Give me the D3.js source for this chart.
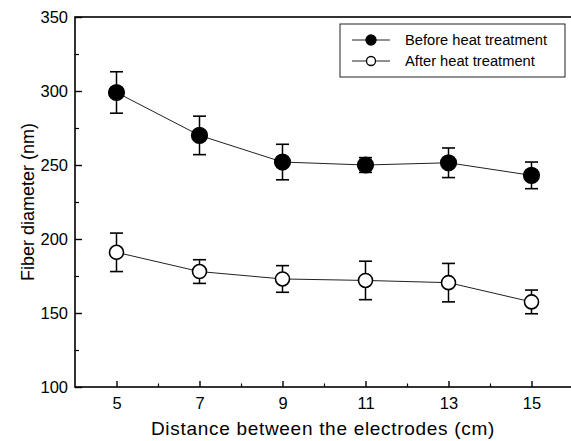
<!DOCTYPE html>
<html lang="en">
  <head>
    <meta charset="UTF-8" />
    <title>Fiber diameter vs electrode distance</title>
    <script src="https://d3js.org/d3.v7.min.js"></script>
    <style>
      body {
        margin: 0;
        background: #fff;
        font-family: "Liberation Sans", Arial, sans-serif;
      }
      .axis text {
        font-family: "Liberation Sans", Arial, sans-serif;
        font-size: 16.5px;
        fill: #000;
      }
      .axis-label {
        font-family: "Liberation Sans", Arial, sans-serif;
        fill: #000;
      }
      .legend text {
        font-family: "Liberation Sans", Arial, sans-serif;
        font-size: 14.7px;
        fill: #000;
      }
    </style>
  </head>
  <body>
    <div class="chart"></div>

    <script>
      // distance between the electrodes (cm)
      const distances = [5, 7, 9, 11, 13, 15];
      // fiber diameter (nm), mean and error
      const beforeMean = [299, 270, 252, 250, 251.5, 243];
      const beforeErr = [14, 13, 12, 5, 10, 9];
      const afterMean = [191, 178, 173, 172, 170.5, 157.5];
      const afterErr = [13, 8, 9, 13, 13, 8];
      const seriesNames = ["Before heat treatment", "After heat treatment"];
      const xTicks = [5, 7, 9, 11, 13, 15];
      const yTicks = [100, 150, 200, 250, 300, 350];

      const margin = { top: 17, right: 0, bottom: 54, left: 75 },
        totalW = 571,
        totalH = 441,
        width = 498,
        height = totalH - margin.top - margin.bottom;

      const svg = d3
        .select(".chart")
        .append("svg")
        .attr("width", totalW)
        .attr("height", totalH)
        .append("g")
        .attr("transform", `translate(${margin.left},${margin.top})`);

      const x = d3.scaleLinear().domain([4, 16]).range([0, width]);
      const y = d3.scaleLinear().domain([100, 350]).range([height, 0]);

      const series = [
        {
          name: seriesNames[0],
          filled: true,
          values: distances.map((d, i) => ({ x: d, y: beforeMean[i], e: beforeErr[i] })),
        },
        {
          name: seriesNames[1],
          filled: false,
          values: distances.map((d, i) => ({ x: d, y: afterMean[i], e: afterErr[i] })),
        },
      ];

      // frame
      svg
        .append("rect")
        .attr("x", 0)
        .attr("y", 0)
        .attr("width", width)
        .attr("height", height)
        .attr("fill", "none")
        .attr("stroke", "#000")
        .attr("stroke-width", 1.6);

      // bottom axis, ticks pointing inward
      const xAxis = svg
        .append("g")
        .attr("class", "axis")
        .attr("transform", `translate(0,${height})`)
        .call(d3.axisBottom(x).tickValues(xTicks).tickSize(-6).tickPadding(10));
      xAxis.select(".domain").remove();
      xAxis.selectAll("line").attr("stroke", "#000").attr("stroke-width", 1.4);

      svg
        .append("g")
        .attr("transform", `translate(0,${height})`)
        .call(d3.axisBottom(x).tickValues(d3.range(6, 16, 2)).tickSize(-3.5).tickFormat(""))
        .call((g) => g.select(".domain").remove())
        .selectAll("line")
        .attr("stroke", "#000")
        .attr("stroke-width", 1.2);

      // left axis
      const yAxis = svg
        .append("g")
        .attr("class", "axis")
        .call(d3.axisLeft(y).tickValues(yTicks).tickSize(-7).tickPadding(7));
      yAxis.select(".domain").remove();
      yAxis.selectAll("line").attr("stroke", "#000").attr("stroke-width", 1.4);

      svg
        .append("g")
        .call(d3.axisLeft(y).tickValues(d3.range(125, 350, 50)).tickSize(-4).tickFormat(""))
        .call((g) => g.select(".domain").remove())
        .selectAll("line")
        .attr("stroke", "#000")
        .attr("stroke-width", 1.2);

      // axis labels
      svg
        .append("text")
        .attr("class", "axis-label")
        .attr("x", 323 - margin.left)
        .attr("y", height + 48)
        .attr("text-anchor", "middle")
        .style("font-size", "19px")
        .style("letter-spacing", "0.7px")
        .text("Distance between the electrodes (cm)");

      svg
        .append("text")
        .attr("class", "axis-label")
        .attr("transform", "rotate(-90)")
        .attr("x", -(202 - margin.top))
        .attr("y", -margin.left + 34)
        .attr("text-anchor", "middle")
        .style("font-size", "18px")
        .text("Fiber diameter (nm)");

      const line = d3
        .line()
        .x((d) => x(d.x))
        .y((d) => y(d.y));

      const groups = svg
        .selectAll(".series")
        .data(series)
        .enter()
        .append("g")
        .attr("class", "series");

      groups
        .append("path")
        .attr("d", (d) => line(d.values))
        .attr("fill", "none")
        .attr("stroke", "#222")
        .attr("stroke-width", 1);

      const capW = 6.5;
      const pts = groups
        .selectAll(".pt")
        .data((d) => d.values.map((v) => ({ ...v, filled: d.filled })))
        .enter()
        .append("g")
        .attr("class", "pt");

      pts
        .append("line")
        .attr("x1", (d) => x(d.x))
        .attr("x2", (d) => x(d.x))
        .attr("y1", (d) => y(d.y + d.e))
        .attr("y2", (d) => y(d.y - d.e))
        .attr("stroke", "#000")
        .attr("stroke-width", 1.5);
      pts
        .append("line")
        .attr("x1", (d) => x(d.x) - capW)
        .attr("x2", (d) => x(d.x) + capW)
        .attr("y1", (d) => y(d.y + d.e))
        .attr("y2", (d) => y(d.y + d.e))
        .attr("stroke", "#000")
        .attr("stroke-width", 1.6);
      pts
        .append("line")
        .attr("x1", (d) => x(d.x) - capW)
        .attr("x2", (d) => x(d.x) + capW)
        .attr("y1", (d) => y(d.y - d.e))
        .attr("y2", (d) => y(d.y - d.e))
        .attr("stroke", "#000")
        .attr("stroke-width", 1.6);
      pts
        .append("circle")
        .attr("cx", (d) => x(d.x))
        .attr("cy", (d) => y(d.y))
        .attr("r", (d) => (d.filled ? 7.8 : 7))
        .attr("fill", (d) => (d.filled ? "#000" : "#fff"))
        .attr("stroke", "#000")
        .attr("stroke-width", 1.6);

      // legend
      const legend = svg
        .append("g")
        .attr("class", "legend")
        .attr("transform", `translate(${340 - margin.left},${24 - margin.top})`);

      legend
        .append("rect")
        .attr("width", 225)
        .attr("height", 53)
        .attr("fill", "#fff")
        .attr("stroke", "#222")
        .attr("stroke-width", 1);

      const items = legend
        .selectAll(".item")
        .data(series)
        .enter()
        .append("g")
        .attr("class", "item")
        .attr("transform", (d, i) => `translate(0,${16 + i * 21})`);

      items
        .append("line")
        .attr("x1", 12)
        .attr("x2", 50)
        .attr("stroke", "#222")
        .attr("stroke-width", 1);
      items
        .append("circle")
        .attr("cx", 31)
        .attr("r", (d) => (d.filled ? 5 : 4.5))
        .attr("fill", (d) => (d.filled ? "#000" : "#fff"))
        .attr("stroke", "#000")
        .attr("stroke-width", 1.3);
      items
        .append("text")
        .attr("x", 65)
        .attr("y", 5)
        .text((d) => d.name);
    </script>
  </body>
</html>
